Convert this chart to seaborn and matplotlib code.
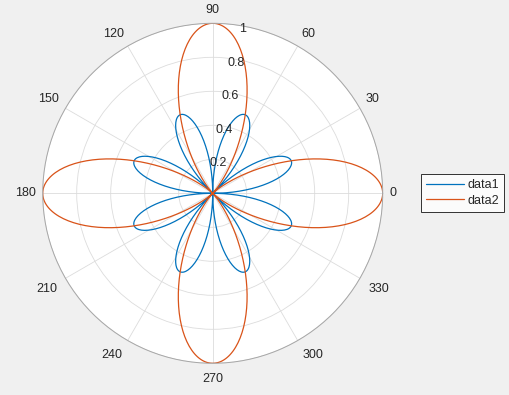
import numpy as np
import pandas as pd
import matplotlib
matplotlib.use("Agg")
import matplotlib.pyplot as plt
import matplotlib.transforms as mtransforms
import seaborn as sns

# ---- data (curves: 8-petal rose, max 0.5; 4-petal rose, max 1) ----
series_names = ["data1", "data2"]
theta = np.arange(0, 2 * np.pi + 0.01, 0.01)
rho1 = np.abs(np.sin(2 * theta) * np.cos(2 * theta))
rho2 = np.cos(2 * theta) ** 2
r_ticks = [0.2, 0.4, 0.6, 0.8, 1.0]
r_tick_labels = ["0.2", "0.4", "0.6", "0.8", "1"]
theta_ticks_deg = [0, 30, 60, 90, 120, 150, 180, 210, 240, 270, 300, 330]
colors = ["#0072BD", "#D95319"]

df = pd.concat([
    pd.DataFrame({"theta": theta, "rho": rho1, "series": series_names[0]}),
    pd.DataFrame({"theta": theta, "rho": rho2, "series": series_names[1]}),
], ignore_index=True)

sns.set_theme(style="white")
plt.rcParams["font.family"] = ["Liberation Sans", "DejaVu Sans"]

W, H = 510, 395
fig = plt.figure(figsize=(W / 100, H / 100), dpi=100)
fig.patch.set_facecolor("#f0f0f0")

cx, cy, R = 212.7, 193.3, 170.0
ax = fig.add_axes([(cx - R) / W, (H - cy - R) / H, 2 * R / W, 2 * R / H], projection="polar")
ax.set_facecolor("white")

sns.lineplot(data=df, x="theta", y="rho", hue="series", palette=dict(zip(series_names, colors)),
             sort=False, estimator=None, ax=ax, linewidth=0.9, legend=True)

ax.set_ylim(0, 1)
ax.set_yticks(r_ticks)
ax.set_yticklabels([])
ax.set_xticks(np.deg2rad(theta_ticks_deg))
ax.set_xticklabels([])
ax.set_xlabel("")
ax.set_ylabel("")
ax.grid(True, color="#dcdcdc", linewidth=0.6)
ax.spines["polar"].set_color("#a6a6a6")
ax.spines["polar"].set_linewidth(0.7)

txt_color = "#262626"
# theta labels, aligned so their inner edge sits just outside the circle
for t in theta_ticks_deg:
    a = np.deg2rad(t)
    c, s = np.cos(a), np.sin(a)
    ha = "left" if c > 0.1 else ("right" if c < -0.1 else "center")
    va = "bottom" if s > 0.1 else ("top" if s < -0.1 else "center")
    r_lab = (180.0 if va == "top" else 177.0) / R
    ax.text(a, r_lab, str(t), ha=ha, va=va, fontsize=9, color=txt_color, clip_on=False)

# r labels along the 80 degree line
r_off = mtransforms.ScaledTranslation(0, -3.2 / 100, fig.dpi_scale_trans)
for rv, lab in zip(r_ticks, r_tick_labels):
    ax.text(np.deg2rad(80), rv, lab, ha="center", va="center", fontsize=9, color=txt_color,
            transform=ax.transData + r_off, clip_on=False)

handles, labels = ax.get_legend_handles_labels()
ax.get_legend().remove()
leg = fig.legend(handles, labels, loc="center left", bbox_to_anchor=(421.5 / W, 1 - 193 / H),
                 fontsize=9, frameon=True, fancybox=False, handlelength=3.0,
                 borderpad=0.4, labelspacing=0.3, handletextpad=0.3, borderaxespad=0)
leg.get_frame().set_edgecolor("black")
leg.get_frame().set_linewidth(0.7)
leg.get_frame().set_facecolor("white")

fig.savefig("out.png", dpi=100, facecolor=fig.get_facecolor())
